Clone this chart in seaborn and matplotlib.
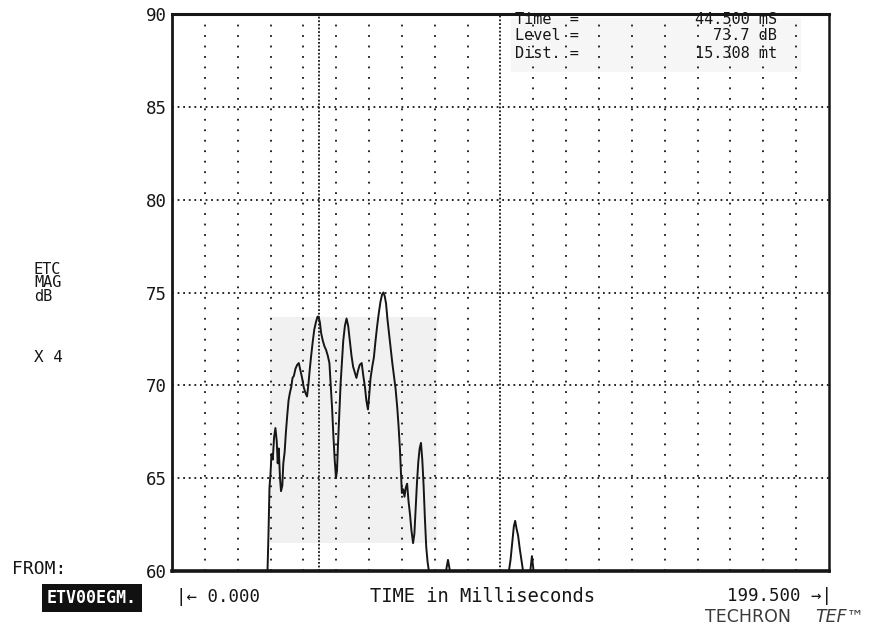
import matplotlib
matplotlib.use("Agg")
import matplotlib.pyplot as plt
import pandas as pd
import seaborn as sns
from matplotlib.patches import Rectangle

# Energy-time curve (ETC) magnitude, time in ms vs level in dB
time_ms = [0.0, 29.0, 29.3, 29.6, 29.9, 30.2, 30.6, 31.0, 31.4, 31.8, 32.1, 32.4,
           32.8, 33.1, 33.5, 33.8, 34.2, 34.6, 35.0, 35.4, 35.8, 36.2, 36.6, 37.0,
           37.5, 38.0, 38.5, 39.0, 39.5, 40.0, 40.5, 41.0, 41.4, 41.8, 42.2, 42.7,
           43.2, 43.7, 44.2, 44.5, 44.9, 45.3, 45.8, 46.3, 46.8, 47.3, 47.8, 48.2,
           48.6, 49.0, 49.4, 49.8, 50.1, 50.4, 50.8, 51.2, 51.6, 52.0, 52.5, 53.0,
           53.5, 54.0, 54.5, 55.0, 55.5, 56.0, 56.5, 57.0, 57.6, 58.1, 58.6, 59.0,
           59.5, 59.9, 60.3, 60.8, 61.3, 61.8, 62.3, 62.8, 63.3, 63.8, 64.2, 64.6,
           65.0, 65.4, 65.9, 66.4, 66.9, 67.4, 67.9, 68.4, 68.8, 69.2, 69.5, 69.8,
           70.2, 70.6, 71.0, 71.4, 71.8, 72.3, 72.7, 73.2, 73.6, 74.0, 74.4, 74.8,
           75.2, 75.6, 76.0, 76.4, 76.8, 77.2, 77.6, 78.0, 83.2, 83.8, 84.4, 102.3,
           102.8, 103.3, 103.8, 104.2, 104.6, 105.1, 105.6, 106.1, 106.6, 108.8,
           109.3, 109.8, 199.5]
level_db = [60.0, 60.0, 62.0, 64.5, 65.2, 66.3, 66.0, 67.2, 67.7, 67.0, 65.8, 66.6,
            65.0, 64.3, 64.6, 65.8, 66.4, 67.5, 68.4, 69.2, 69.6, 69.9, 70.4, 70.5,
            70.9, 71.1, 71.2, 70.8, 70.4, 69.9, 69.6, 69.4, 70.0, 70.8, 71.5, 72.3,
            73.0, 73.4, 73.7, 73.7, 73.4, 72.8, 72.4, 72.1, 71.9, 71.6, 71.2, 70.0,
            68.8, 67.3, 66.0, 65.0, 65.4, 66.8, 68.5, 70.1, 71.3, 72.4, 73.2, 73.6,
            73.2, 72.4, 71.6, 71.0, 70.7, 70.4, 70.8, 71.1, 71.2, 70.5, 69.9, 69.2,
            68.7, 69.5, 70.4, 71.0, 71.5, 72.4, 73.2, 73.9, 74.5, 74.9, 75.0, 74.8,
            74.4, 73.6, 72.8, 72.0, 71.2, 70.5, 69.8, 68.8, 67.8, 66.6, 65.4, 64.2,
            64.4, 64.0, 64.5, 64.7, 63.8, 63.0, 62.2, 61.5, 62.0, 63.4, 64.8, 65.9,
            66.6, 66.9, 66.0, 64.6, 62.8, 61.3, 60.5, 60.0, 60.0, 60.6, 60.0, 60.0,
            60.6, 61.5, 62.4, 62.7, 62.3, 61.9, 61.2, 60.6, 60.0, 60.0,
            60.8, 60.0, 60.0]

y_ticks = [60, 65, 70, 75, 80, 85, 90]
y_labels = ["60", "65", "70", "75", "80", "85", "90"]
x_start, x_end = 0.0, 199.5
x_divisions = 20

cursor_time = 44.5
cursor_level = 73.7
cursor_dist = 15.308

W, H = 870, 627


def fx(px):
    return px / W


def fy(py):
    return 1 - py / H


sns.set_theme(style="white")
plt.rcParams['font.family'] = ['DejaVu Sans Mono', 'DejaVu Sans']

ink = "#161616"
fig = plt.figure(figsize=(W / 100, H / 100), dpi=100)
ax = fig.add_axes([fx(172), fy(571), (829 - 172) / W, (571 - 14) / H])

df = pd.DataFrame({"time": time_ms, "level": level_db})

ax.set_xlim(x_start, x_end)
ax.set_ylim(60, 90)

# faint shaded panels
ax.add_patch(Rectangle((29.8, 61.5), 50.7, 12.2, facecolor="#f1f1f1",
                       edgecolor="none", zorder=0))
ax.add_patch(Rectangle((103.0, 86.9), 88.0, 2.9, facecolor="#f6f6f6",
                       edgecolor="none", zorder=0))

# dotted grid: horizontal every 5 dB, vertical every twentieth of the span
for y in y_ticks[1:-1]:
    ax.axhline(y, color=ink, lw=1.3, ls=(0, (1, 2.1)), zorder=1)
step = (x_end - x_start) / x_divisions
for i in range(1, x_divisions):
    xv = x_start + i * step
    dense = (i == x_divisions // 2)
    ax.axvline(xv, color=ink, lw=1.3, ls=(0, (1, 1.1)) if dense else (0, (1, 4.8)),
               zorder=1)
# cursor line
ax.axvline(cursor_time, color=ink, lw=1.3, ls=(0, (1, 1.0)), zorder=1)

sns.lineplot(data=df, x="time", y="level", ax=ax, color=ink, lw=1.4,
             estimator=None, sort=False, zorder=3)

ax.set_xlabel("")
ax.set_ylabel("")
ax.set_xticks([])
ax.set_yticks(y_ticks)
ax.set_yticklabels(y_labels)
ax.tick_params(axis="y", length=0, pad=4, labelsize=12.5, labelcolor=ink)
for side, lw in (("left", 2.0), ("right", 1.8), ("top", 2.2), ("bottom", 2.6)):
    ax.spines[side].set_visible(True)
    ax.spines[side].set_color(ink)
    ax.spines[side].set_linewidth(lw)

# cursor readout
rows = [("Time  =", f"{cursor_time:.3f} mS"),
        ("Level =", f"{cursor_level:.1f} dB"),
        ("Dist. =", f"{cursor_dist:.3f} mt")]
for k, (lab, val) in enumerate(rows):
    yy = 19 + k * 17
    fig.text(fx(515), fy(yy), lab, fontsize=11, color=ink, ha="left", va="center")
    fig.text(fx(777), fy(yy), val, fontsize=11, color=ink, ha="right", va="center")

# axis title on the left
fig.text(fx(34), fy(283), "ETC\nMAG\ndB", fontsize=11, color=ink, ha="left",
         va="center", linespacing=0.85)
fig.text(fx(34), fy(357), "X 4", fontsize=11.5, color=ink, ha="left", va="center")

# bottom annotation line
fig.text(fx(12), fy(569), "FROM:", fontsize=13, color=ink, ha="left", va="center")
fig.text(fx(92), fy(598), "ETV00EGM.", fontsize=12, color="white", ha="center",
         va="center", fontweight="bold",
         bbox=dict(boxstyle="square,pad=0.3", facecolor="#111111", edgecolor="none"))
fig.text(fx(176), fy(597), f"|\u2190 {x_start:.3f}", fontsize=12.5, color=ink,
         ha="left", va="center")
fig.text(fx(483), fy(597), "TIME in Milliseconds", fontsize=13.5, color=ink,
         ha="center", va="center")
fig.text(fx(832), fy(596), f"{x_end:.3f} \u2192|", fontsize=12.5, color=ink,
         ha="right", va="center")
fig.text(fx(705), fy(617), "TECHRON", fontsize=12.5, color="#3a3a3a",
         ha="left", va="center", family=["DejaVu Sans"])
fig.text(fx(864), fy(617), "TEF\u2122", fontsize=12.5, color="#3a3a3a",
         ha="right", va="center", family=["DejaVu Sans"], fontstyle="italic")

fig.savefig("out.png", dpi=100, facecolor="white")
